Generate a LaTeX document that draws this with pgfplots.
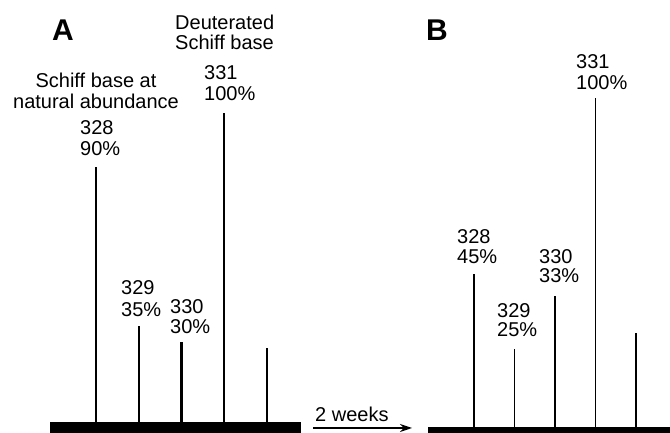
\documentclass[border=0pt]{standalone}
\usepackage{pgfplots}
\pgfplotsset{compat=1.18}
\usepackage{fontspec}
\setmainfont{Liberation Sans}
\usetikzlibrary{arrows.meta}
\newcommand{\lbl}{\fontsize{20}{21}\selectfont}
\begin{document}
\begin{tikzpicture}[x=1pt,y=1pt]
\path[use as bounding box] (0,0) rectangle (670,433);
% ---------------- Panel A ----------------
\begin{axis}[at={(50pt,0pt)}, anchor=south west, scale only axis,
  width=251pt, height=433pt, axis lines=none, clip=false,
  xmin=326.924, xmax=332.795, ymin=-3.56, ymax=136.57]
\addplot[fill=black, draw=none] coordinates {(326.924,0) (332.795,0) (332.795,-3.56) (326.924,-3.56)} -- cycle;
\addplot[ycomb, black, line width=2.1pt, mark=none] coordinates {
(328,82.5) (329,31) (330,26) (331,100) (332,24)};
\begin{scope}[every node/.style={inner sep=0pt, font=\lbl}]
\node[anchor=base] at (axis cs:327.228,123.6) {\fontsize{30}{30}\selectfont\bfseries A};
\node[anchor=base] at (axis cs:328,108.4) {Schiff base at};
\node[anchor=base] at (axis cs:328,101.6) {natural abundance};
\node[anchor=base west] at (axis cs:327.626,92.9) {328};
\node[anchor=base west] at (axis cs:327.626,86.1) {90\%};
\node[anchor=base west] at (axis cs:329.848,127.0) {Deuterated};
\node[anchor=base west] at (axis cs:329.848,120.4) {Schiff base};
\node[anchor=base west] at (axis cs:330.526,110.7) {331};
\node[anchor=base west] at (axis cs:330.526,104.2) {100\%};
\node[anchor=base west] at (axis cs:328.585,41.1) {329};
\node[anchor=base west] at (axis cs:328.585,34.3) {35\%};
\node[anchor=base west] at (axis cs:329.731,35.2) {330};
\node[anchor=base west] at (axis cs:329.731,28.5) {30\%};
\node[anchor=base west] at (axis cs:333.123,0) {2 weeks};
\end{scope}
\draw[line width=1.5pt, -{Stealth[length=12pt,width=8pt]}] (axis cs:333.076,-1.94) -- (axis cs:335.392,-1.94);
\end{axis}
% ---------------- Panel B ----------------
\begin{axis}[at={(428pt,0pt)}, anchor=south west, scale only axis,
  width=242pt, height=433pt, axis lines=none, clip=false,
  xmin=326.864, xmax=332.84, ymin=-1.82, ymax=129.79]
\addplot[fill=black, draw=none] coordinates {(326.864,0) (332.84,0) (332.84,-1.82) (326.864,-1.82)} -- cycle;
\addplot[ycomb, black, line width=1.6pt, mark=none] coordinates {
(328,46.5) (329,23.7) (330,39.8) (331,100) (332,28.6)};
\begin{scope}[every node/.style={inner sep=0pt, font=\lbl}]
\node[anchor=base] at (axis cs:327.086,117.6) {\fontsize{30}{30}\selectfont\bfseries B};
\node[anchor=base west] at (axis cs:330.519,109.1) {331};
\node[anchor=base west] at (axis cs:330.519,102.7) {100\%};
\node[anchor=base west] at (axis cs:327.580,55.9) {328};
\node[anchor=base west] at (axis cs:327.580,49.8) {45\%};
\node[anchor=base west] at (axis cs:329.605,49.8) {330};
\node[anchor=base west] at (axis cs:329.605,43.8) {33\%};
\node[anchor=base west] at (axis cs:328.568,33.4) {329};
\node[anchor=base west] at (axis cs:328.568,27.4) {25\%};
\end{scope}
\end{axis}
\end{tikzpicture}
\end{document}
